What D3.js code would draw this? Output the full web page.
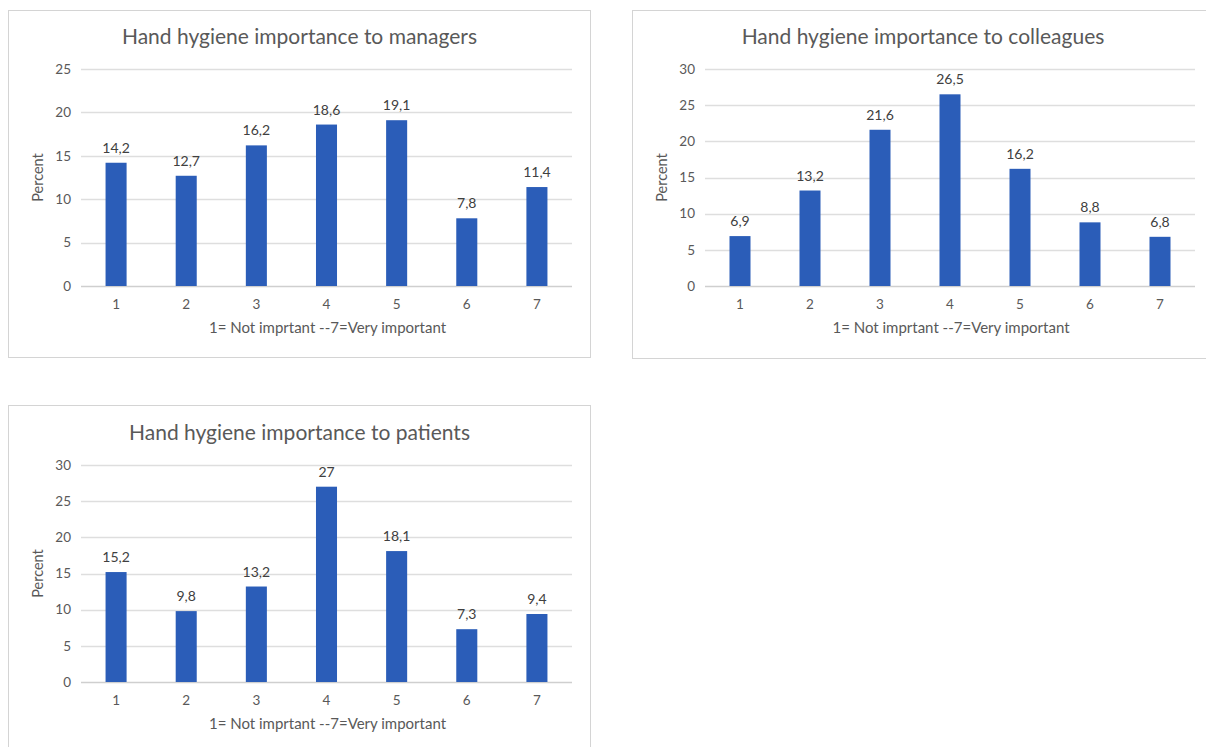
<!DOCTYPE html>
<html>
<head>
<meta charset="utf-8">
<script src="https://d3js.org/d3.v7.min.js"></script>
<style>
  body { margin: 0; padding: 0; background: #fff; }
  text { font-family: Lato, "Open Sans", sans-serif; }
</style>
</head>
<body>
<div id="svg_cont"></div>
<script>

// data
var categories = ['1', '2', '3', '4', '5', '6', '7'];
var managers_vals = [14.2, 12.7, 16.2, 18.6, 19.1, 7.8, 11.4];
var colleagues_vals = [6.9, 13.2, 21.6, 26.5, 16.2, 8.8, 6.8];
var patients_vals = [15.2, 9.8, 13.2, 27, 18.1, 7.3, 9.4];
var titles = ['Hand hygiene importance to managers',
              'Hand hygiene importance to colleagues',
              'Hand hygiene importance to patients'];
var x_title = '1= Not imprtant --7=Very important';
var y_title = 'Percent';
var y_max = [25, 30, 30];

var w = 1206, h = 747;
var bar_color = '#2b5db8';

var svg_main = d3.select('#svg_cont').append('svg')
    .attr('width', w)
    .attr('height', h);

// panel boxes and plot areas
var panels = [
  { box: [8, 10, 582, 347], plot: [81, 69, 572, 286], vals: managers_vals },
  { box: [632, 10, 590, 348], plot: [705, 69, 1195, 286], vals: colleagues_vals },
  { box: [8, 405, 582, 360], plot: [81, 465, 572, 682], vals: patients_vals }
];

function fmt(v) {
  return String(v).replace('.', ',');
}

panels.forEach(function(p, k) {
  var g = svg_main.append('g');

  g.append('rect')
    .attr('x', p.box[0] + 0.5).attr('y', p.box[1] + 0.5)
    .attr('width', p.box[2]).attr('height', p.box[3])
    .attr('fill', '#fff')
    .attr('stroke', '#d4d4d4')
    .attr('stroke-width', 1);

  var x = d3.scaleBand()
      .domain(categories)
      .range([p.plot[0], p.plot[2]])
      .paddingInner(0.7)
      .paddingOuter(0.35);

  var y = d3.scaleLinear()
      .domain([0, y_max[k]])
      .range([p.plot[3], p.plot[1]]);

  var ticks = d3.range(0, y_max[k] + 1, 5);

  // gridlines
  g.selectAll('.grid')
    .data(ticks)
    .enter().append('line')
      .attr('x1', p.plot[0]).attr('x2', p.plot[2])
      .attr('y1', d => Math.round(y(d)) + 0.5)
      .attr('y2', d => Math.round(y(d)) + 0.5)
      .attr('stroke', d => d === 0 ? '#cfcfcf' : '#dedede')
      .attr('stroke-width', 1.3);

  // y tick labels
  var yAxis = d3.axisLeft(y).tickValues(ticks).tickSize(0).tickPadding(0);
  var ya = g.append('g')
      .attr('transform', 'translate(' + (p.plot[0] - 10) + ',0)')
      .call(yAxis);
  ya.select('.domain').remove();
  ya.selectAll('text')
    .attr('fill', '#595959')
    .style('font-size', '13.5px')
    .style('font-family', 'Lato, sans-serif');

  // x tick labels
  var xAxis = d3.axisBottom(x).tickSize(0).tickPadding(0);
  var xa = g.append('g')
      .attr('transform', 'translate(0,' + (p.plot[3] + 13) + ')')
      .call(xAxis);
  xa.select('.domain').remove();
  xa.selectAll('text')
    .attr('fill', '#595959')
    .style('font-size', '13.5px')
    .style('font-family', 'Lato, sans-serif');

  // bars
  g.selectAll('.bar')
    .data(p.vals)
    .enter().append('rect')
      .attr('x', (d, i) => x(categories[i]))
      .attr('y', d => y(d))
      .attr('width', x.bandwidth())
      .attr('height', d => y(0) - y(d))
      .attr('fill', bar_color);

  // data labels
  g.selectAll('.lbl')
    .data(p.vals)
    .enter().append('text')
      .attr('x', (d, i) => x(categories[i]) + x.bandwidth() / 2)
      .attr('y', d => y(d) - 10)
      .attr('text-anchor', 'middle')
      .attr('fill', '#404040')
      .style('font-size', '14px')
      .text(d => fmt(d));

  var cx = (p.plot[0] + p.plot[2]) / 2;

  // chart title
  g.append('text')
    .attr('x', cx - 27)
    .attr('y', p.plot[1] - 25)
    .attr('text-anchor', 'middle')
    .attr('fill', '#595959')
    .style('font-size', '21px')
    .text(titles[k]);

  // axis titles
  g.append('text')
    .attr('x', cx + 1)
    .attr('y', p.plot[3] + 47)
    .attr('text-anchor', 'middle')
    .attr('fill', '#595959')
    .style('font-size', '15px')
    .text(x_title);

  g.append('text')
    .attr('transform', 'translate(' + (p.plot[0] - 38) + ',' + ((p.plot[1] + p.plot[3]) / 2) + ') rotate(-90)')
    .attr('text-anchor', 'middle')
    .attr('fill', '#595959')
    .style('font-size', '14.5px')
    .text(y_title);
});

</script>
</body>
</html>
